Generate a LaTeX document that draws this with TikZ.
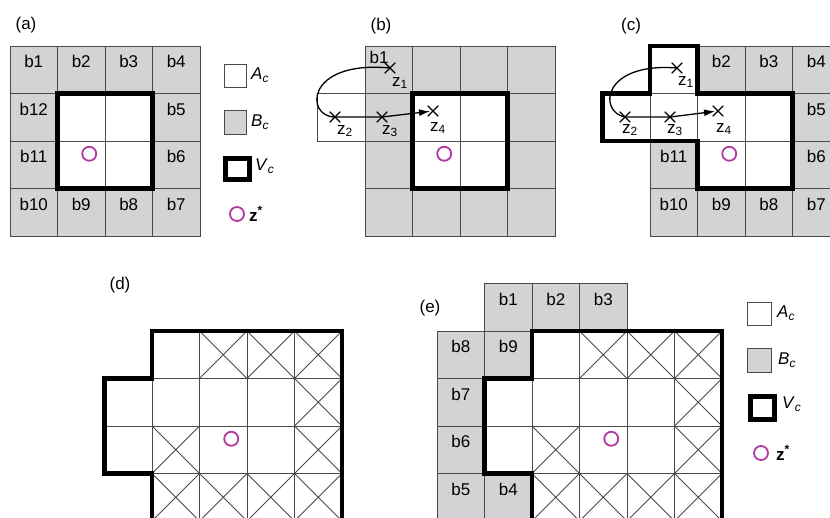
\documentclass[tikz,border=0pt]{standalone}
\usepackage{fontspec}
\setmainfont{Liberation Sans}
\usetikzlibrary{arrows.meta,shapes.misc}
\definecolor{bgray}{HTML}{D3D3D3}
\definecolor{gline}{HTML}{4A4A4A}
\definecolor{zmag}{HTML}{B03AA0}
\tikzset{
  gl/.style={draw=gline, line width=0.9pt},
  thickv/.style={draw=black, line width=4.8pt, line join=miter},
  lab/.style={font=\fontsize{17}{20}\selectfont, inner sep=0pt},
  zlab/.style={font=\fontsize{17}{19}\selectfont, inner sep=0pt},
  zstar/.style={circle, draw=zmag, line width=1.8pt, minimum size=14pt, inner sep=0pt},
  xmark/.style={draw, cross out, minimum size=9.5pt, inner sep=0pt, line width=1.1pt},
  traj/.style={line width=1.3pt, -{Latex[length=11pt,width=7pt]}, shorten >=3pt},
  legbox/.style={draw=gline, line width=0.9pt},
}
\newcommand\PCell[5]{\filldraw[gl,fill=#5] ({#1+(#3)*47.5},{#2+(#4)*47.5}) rectangle ++(47.5,47.5);}
\newcommand\PX[4]{\draw[gl] ({#1+(#3)*47.5},{#2+(#4)*47.5}) -- ++(47.5,47.5) ++(0,-47.5) -- ++(-47.5,47.5);}
\newcommand\PLab[6]{\node[lab] (#6) at ({#1+(#3+0.5)*47.5},{#2+(#4+0.5)*47.5-8}) {#5};}
\begin{document}
\begin{tikzpicture}[x=1pt,y=-1pt]
\useasboundingbox (0,0) rectangle (830,517);
\fill[white] (0,0) rectangle (830,517);
\clip (0,0) rectangle (830,517);

% panel labels
\node[lab] (pa) at (26,25) {(a)};
\node[lab] (pb) at (381,26) {(b)};
\node[lab] (pc) at (631,26) {(c)};
\node[lab] (pd) at (120,285) {(d)};
\node[lab] (pe) at (430,308) {(e)};

% ---------------- (a)
\foreach \cc in {0,...,3}{\foreach \rr in {0,...,3}{\PCell{10}{46}{\cc}{\rr}{bgray}}}
\foreach \cc/\rr in {1/1,2/1,1/2,2/2}{\PCell{10}{46}{\cc}{\rr}{white}}
\draw[thickv] (57.5,93.5) rectangle (152.5,188.5);
\foreach \cc/\rr/\txt in {0/0/b1,1/0/b2,2/0/b3,3/0/b4,3/1/b5,3/2/b6,3/3/b7,2/3/b8,1/3/b9,0/3/b10,0/2/b11,0/1/b12}{\PLab{10}{46}{\cc}{\rr}{\txt}{a-\txt}}
\node[zstar] (a-z) at (89.25,153.75) {};

% legend (a)
\draw[legbox, fill=white] (224,64) rectangle (246,87);
\node[lab, anchor=west] (la-A) at (251,75.5) {\textit{A}\textsubscript{\textit{c}}};
\draw[legbox, fill=bgray] (224,110) rectangle (246,134);
\node[lab, anchor=west] (la-B) at (251,122) {\textit{B}\textsubscript{\textit{c}}};
\draw[thickv] (225.3,158.3) rectangle (249.7,179.7);
\node[lab, anchor=west] (la-V) at (255,166) {\textit{V}\textsubscript{\textit{c}}};
\node[zstar] (la-z) at (237,214) {};
\node[lab, anchor=west] (la-zt) at (249,214) {\textbf{z\textsuperscript{*}}};

% ---------------- (b)
\foreach \cc in {0,...,3}{\foreach \rr in {0,...,3}{\PCell{365}{46}{\cc}{\rr}{bgray}}}
\foreach \cc/\rr in {1/1,2/1,1/2,2/2,-1/1}{\PCell{365}{46}{\cc}{\rr}{white}}
\draw[thickv] (412.5,93.5) rectangle (507.5,188.5);
\node[lab] (b-b1) at (379,57) {b1};
\node[zstar] (b-z) at (444.25,153.75) {};
\node[xmark] (bz1) at (390,68) {};
\node[xmark] (bz2) at (335,117) {};
\node[xmark] (bz3) at (382,117) {};
\node[xmark] (bz4) at (433,111) {};
\node[zlab] (bz1l) at (400,83) {z\textsubscript{1}};
\node[zlab] (bz2l) at (345,131) {z\textsubscript{2}};
\node[zlab] (bz3l) at (390,131) {z\textsubscript{3}};
\node[zlab] (bz4l) at (438,128) {z\textsubscript{4}};
\draw[traj] (bz1.center) .. controls (305,60) and (305,117) .. (bz2.center) -- (bz3.center) -- (bz4.center);

% ---------------- (c)
\foreach \cc/\rr in {1/0,2/0,3/0,3/1,0/2,3/2,0/3,1/3,2/3,3/3}{\PCell{650}{46}{\cc}{\rr}{bgray}}
\foreach \cc/\rr in {0/0,-1/1,0/1,1/1,2/1,1/2,2/2}{\PCell{650}{46}{\cc}{\rr}{white}}
\draw[thickv] (650,46) -- (697.5,46) -- (697.5,93.5) -- (792.5,93.5) -- (792.5,188.5) -- (697.5,188.5) -- (697.5,141) -- (602.5,141) -- (602.5,93.5) -- (650,93.5) -- cycle;
\foreach \cc/\rr/\txt in {1/0/b2,2/0/b3,3/0/b4,3/1/b5,3/2/b6,3/3/b7,2/3/b8,1/3/b9,0/3/b10,0/2/b11}{\PLab{650}{46}{\cc}{\rr}{\txt}{c-\txt}}
\node[zstar] (c-z) at (729.25,153.75) {};
\node[xmark] (cz1) at (677,68) {};
\node[xmark] (cz2) at (625,117) {};
\node[xmark] (cz3) at (670,117) {};
\node[xmark] (cz4) at (718,111) {};
\node[zlab] (cz1l) at (686,82) {z\textsubscript{1}};
\node[zlab] (cz2l) at (630,130) {z\textsubscript{2}};
\node[zlab] (cz3l) at (675,130) {z\textsubscript{3}};
\node[zlab] (cz4l) at (724,129) {z\textsubscript{4}};
\draw[traj] (cz1.center) .. controls (602,62) and (598,112) .. (cz2.center) -- (cz3.center) -- (cz4.center);

% ---------------- (d)
\foreach \cc in {0,...,3}{\foreach \rr in {0,...,3}{\PCell{152}{331}{\cc}{\rr}{white}}}
\foreach \cc/\rr in {-1/1,-1/2}{\PCell{152}{331}{\cc}{\rr}{white}}
\foreach \cc/\rr in {1/0,2/0,3/0,3/1,0/2,3/2,0/3,1/3,2/3,3/3}{\PX{152}{331}{\cc}{\rr}}
\draw[thickv] (342,560) -- (342,331) -- (152,331) -- (152,378.5) -- (104.5,378.5) -- (104.5,473.5) -- (152,473.5) -- (152,560);
\node[zstar] (d-z) at (231.25,438.75) {};

% ---------------- (e)
\foreach \cc in {0,...,3}{\foreach \rr in {0,...,3}{\PCell{532}{331}{\cc}{\rr}{white}}}
\foreach \cc/\rr in {-1/1,-1/2}{\PCell{532}{331}{\cc}{\rr}{white}}
\foreach \cc/\rr in {-1/-1,0/-1,1/-1,-2/0,-1/0,-2/1,-2/2,-2/3,-1/3}{\PCell{532}{331}{\cc}{\rr}{bgray}}
\foreach \cc/\rr in {1/0,2/0,3/0,3/1,0/2,3/2,0/3,1/3,2/3,3/3}{\PX{532}{331}{\cc}{\rr}}
\draw[thickv] (722,560) -- (722,331) -- (532,331) -- (532,378.5) -- (484.5,378.5) -- (484.5,473.5) -- (532,473.5) -- (532,560);
\foreach \cc/\rr/\txt in {-1/-1/b1,0/-1/b2,1/-1/b3,-1/3/b4,-2/3/b5,-2/2/b6,-2/1/b7,-2/0/b8,-1/0/b9}{\PLab{532}{331}{\cc}{\rr}{\txt}{e-\txt}}
\node[zstar] (e-z) at (611.25,438.75) {};

% legend (e)
\draw[legbox, fill=white] (747,302) rectangle (771,325);
\node[lab, anchor=west] (le-A) at (777,313.5) {\textit{A}\textsubscript{\textit{c}}};
\draw[legbox, fill=bgray] (747,348) rectangle (771,372);
\node[lab, anchor=west] (le-B) at (778,360) {\textit{B}\textsubscript{\textit{c}}};
\draw[thickv] (750.3,396.3) rectangle (774.7,419.7);
\node[lab, anchor=west] (le-V) at (782,404) {\textit{V}\textsubscript{\textit{c}}};
\node[zstar] (le-z) at (761,453) {};
\node[lab, anchor=west] (le-zt) at (776,453) {\textbf{z\textsuperscript{*}}};
\end{tikzpicture}
\end{document}
